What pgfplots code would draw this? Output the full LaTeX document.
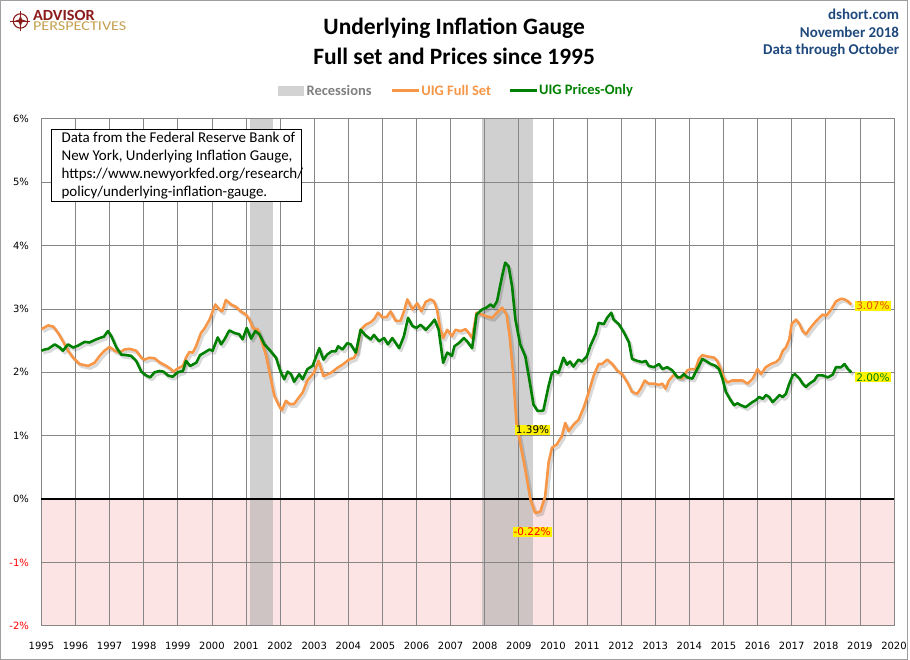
\documentclass[border=0pt]{standalone}
\usepackage{fontspec}
\setmainfont{Carlito}
\newfontfamily\dv{DejaVu Sans}
\usepackage{graphicx}
\usepackage{pgfplots}
\pgfplotsset{compat=1.18}
\usepackage{pgfplotstable}
\definecolor{uigorange}{RGB}{247,150,70}
\definecolor{uiggreen}{RGB}{0,128,0}
\definecolor{gridgray}{RGB}{134,134,134}
\definecolor{pinkbg}{RGB}{253,228,228}
\definecolor{recgray}{RGB}{172,172,172}
\definecolor{leggray}{RGB}{211,211,211}
\definecolor{navy}{RGB}{31,73,125}
\definecolor{advred}{RGB}{140,28,28}
\definecolor{advgold}{RGB}{196,160,80}
\definecolor{lblorange}{RGB}{228,78,12}

\pgfplotstableread{
x y
1995.00 2.68
1995.20 2.74
1995.35 2.72
1995.49 2.62
1995.63 2.49
1995.78 2.34
1995.93 2.23
1996.12 2.13
1996.37 2.10
1996.56 2.15
1996.71 2.26
1996.85 2.34
1997.00 2.40
1997.15 2.34
1997.29 2.31
1997.44 2.36
1997.59 2.37
1997.78 2.34
1997.93 2.23
1998.02 2.20
1998.17 2.23
1998.32 2.22
1998.46 2.16
1998.66 2.10
1998.80 2.05
1998.87 2.01
1999.00 2.06
1999.15 2.10
1999.24 2.23
1999.34 2.32
1999.44 2.31
1999.54 2.42
1999.68 2.62
1999.78 2.69
1999.93 2.83
2000.10 3.07
2000.22 2.99
2000.30 2.96
2000.41 3.14
2000.56 3.07
2000.71 3.03
2000.85 2.96
2001.00 2.91
2001.10 2.83
2001.21 2.69
2001.34 2.68
2001.44 2.52
2001.59 2.26
2001.73 1.89
2001.83 1.63
2001.96 1.48
2002.05 1.40
2002.17 1.55
2002.27 1.50
2002.41 1.50
2002.56 1.61
2002.66 1.68
2002.80 1.87
2003.00 2.00
2003.13 2.18
2003.27 1.94
2003.49 1.99
2003.68 2.07
2003.83 2.12
2004.02 2.20
2004.17 2.23
2004.25 2.32
2004.36 2.67
2004.51 2.75
2004.66 2.79
2004.76 2.84
2004.87 2.94
2005.00 2.87
2005.12 2.87
2005.24 2.96
2005.39 2.81
2005.53 2.81
2005.63 2.96
2005.73 3.15
2005.88 2.99
2006.02 3.09
2006.14 2.96
2006.27 3.11
2006.41 3.15
2006.51 3.12
2006.60 2.99
2006.70 2.67
2006.78 2.54
2006.90 2.67
2007.04 2.57
2007.14 2.67
2007.29 2.65
2007.44 2.68
2007.53 2.62
2007.63 2.54
2007.76 2.94
2007.92 2.91
2008.07 2.88
2008.22 2.86
2008.36 2.94
2008.51 3.02
2008.64 2.91
2008.73 2.57
2008.83 1.99
2008.93 1.20
2009.04 0.88
2009.19 0.46
2009.34 -0.01
2009.48 -0.22
2009.63 -0.20
2009.77 0.04
2009.87 0.57
2009.97 0.81
2010.11 0.86
2010.26 0.99
2010.36 1.20
2010.46 1.07
2010.60 1.17
2010.75 1.25
2010.90 1.44
2011.04 1.67
2011.19 1.94
2011.34 2.13
2011.44 2.13
2011.59 2.20
2011.74 2.13
2011.88 2.03
2012.03 1.97
2012.18 1.84
2012.32 1.69
2012.47 1.66
2012.57 1.74
2012.69 1.87
2012.81 1.82
2012.96 1.82
2013.11 1.80
2013.21 1.82
2013.30 1.74
2013.40 1.87
2013.55 1.96
2013.70 1.92
2013.79 1.90
2013.94 2.03
2014.04 2.05
2014.18 2.05
2014.28 2.21
2014.38 2.27
2014.53 2.25
2014.73 2.23
2014.82 2.18
2014.92 2.05
2015.02 1.90
2015.12 1.84
2015.26 1.87
2015.41 1.87
2015.56 1.87
2015.71 1.82
2015.86 1.90
2016.00 2.05
2016.10 1.97
2016.24 2.08
2016.39 2.13
2016.54 2.16
2016.64 2.21
2016.74 2.34
2016.83 2.39
2016.93 2.52
2017.00 2.76
2017.13 2.83
2017.23 2.76
2017.32 2.65
2017.42 2.60
2017.52 2.68
2017.67 2.78
2017.81 2.86
2017.91 2.91
2018.01 2.89
2018.16 2.99
2018.30 3.12
2018.45 3.16
2018.55 3.15
2018.65 3.12
2018.75 3.07
}\fullset

\pgfplotstableread{
x y
1995.00 2.34
1995.10 2.36
1995.20 2.37
1995.39 2.44
1995.54 2.39
1995.63 2.34
1995.78 2.44
1995.93 2.39
1996.07 2.42
1996.27 2.48
1996.41 2.47
1996.61 2.52
1996.76 2.55
1996.83 2.56
1996.95 2.65
1997.05 2.57
1997.20 2.39
1997.34 2.28
1997.49 2.27
1997.63 2.26
1997.78 2.18
1997.93 2.01
1998.07 1.95
1998.19 1.92
1998.32 2.00
1998.46 2.02
1998.58 2.01
1998.71 1.95
1998.85 1.93
1999.00 2.00
1999.15 2.02
1999.24 2.18
1999.36 2.10
1999.54 2.15
1999.65 2.27
1999.78 2.31
1999.93 2.36
2000.02 2.34
2000.17 2.55
2000.27 2.44
2000.37 2.52
2000.51 2.66
2000.66 2.62
2000.80 2.60
2000.90 2.52
2001.02 2.70
2001.15 2.53
2001.27 2.65
2001.39 2.60
2001.54 2.44
2001.68 2.36
2001.88 2.23
2002.02 2.00
2002.12 1.89
2002.22 2.01
2002.32 1.97
2002.41 1.85
2002.56 1.97
2002.66 1.89
2002.80 2.05
2002.95 2.10
2003.15 2.38
2003.27 2.20
2003.38 2.28
2003.51 2.33
2003.63 2.33
2003.70 2.41
2003.83 2.36
2003.97 2.46
2004.07 2.44
2004.22 2.31
2004.36 2.67
2004.51 2.58
2004.66 2.52
2004.75 2.59
2004.90 2.49
2005.05 2.54
2005.16 2.44
2005.29 2.54
2005.49 2.38
2005.63 2.57
2005.75 2.86
2005.88 2.73
2006.00 2.70
2006.12 2.75
2006.27 2.67
2006.41 2.75
2006.53 2.83
2006.65 2.67
2006.78 2.15
2006.90 2.31
2007.04 2.26
2007.11 2.41
2007.24 2.46
2007.39 2.54
2007.48 2.49
2007.63 2.38
2007.76 2.91
2007.92 2.99
2008.05 3.02
2008.17 3.07
2008.26 3.03
2008.36 3.12
2008.51 3.52
2008.60 3.73
2008.70 3.67
2008.80 3.36
2008.90 2.83
2009.04 2.44
2009.19 2.25
2009.34 1.78
2009.43 1.49
2009.55 1.39
2009.65 1.39
2009.72 1.40
2009.87 1.78
2009.97 1.99
2010.07 2.02
2010.16 1.99
2010.31 2.23
2010.41 2.12
2010.50 2.17
2010.60 2.09
2010.75 2.20
2010.85 2.17
2010.99 2.25
2011.10 2.42
2011.25 2.60
2011.34 2.78
2011.49 2.76
2011.59 2.86
2011.71 2.94
2011.78 2.83
2011.93 2.76
2012.08 2.63
2012.23 2.47
2012.32 2.21
2012.47 2.18
2012.62 2.16
2012.72 2.18
2012.81 2.10
2012.96 2.08
2013.11 2.13
2013.21 2.05
2013.35 2.08
2013.50 2.03
2013.65 1.92
2013.74 1.92
2013.84 1.97
2013.94 1.92
2014.09 1.90
2014.18 2.00
2014.28 2.10
2014.38 2.21
2014.48 2.18
2014.63 2.13
2014.77 2.10
2014.87 2.05
2014.97 1.90
2015.07 1.69
2015.21 1.56
2015.31 1.48
2015.41 1.51
2015.51 1.48
2015.65 1.45
2015.75 1.49
2015.85 1.53
2015.95 1.56
2016.05 1.61
2016.15 1.58
2016.25 1.64
2016.34 1.61
2016.44 1.53
2016.54 1.58
2016.64 1.64
2016.74 1.61
2016.83 1.66
2016.93 1.82
2017.03 1.95
2017.10 1.97
2017.23 1.90
2017.32 1.82
2017.42 1.77
2017.52 1.82
2017.66 1.87
2017.76 1.95
2017.91 1.95
2018.06 1.92
2018.20 1.96
2018.30 2.08
2018.45 2.08
2018.55 2.13
2018.65 2.05
2018.75 2.00
}\pricesonly

\begin{document}
\begin{tikzpicture}[x=1pt,y=1pt]
\path (0,0) rectangle (910,661);
\draw[gray!75, line width=1pt] (0.5,0.5) rectangle (909.5,660.5);

% logo
\draw[advred, line width=1.1pt] (20.5,640) circle (7.2);
\draw[advred, line width=0.6pt] (20.5,630) -- (20.5,650) (10.5,640) -- (30.5,640);
\fill[advred] (20.5,646) -- (22,641.5) -- (26.5,640) -- (22,638.5) -- (20.5,634) -- (19,638.5) -- (14.5,640) -- (19,641.5) -- cycle;
\node[anchor=south west, inner sep=0, align=left, font=\fontsize{13.5}{10.5}\selectfont] at (33,630) {\textcolor{advred}{\bfseries\fontsize{15.5}{10.5}\selectfont\scalebox{1.05}[1]{ADVISOR}}\\\textcolor{advgold}{\scalebox{1.2}[1]{PERSPECTIVES}}};

% titles
\node[font=\bfseries\fontsize{23.5}{26}\selectfont] at (455,633) {Underlying Inflation Gauge};
\node[font=\bfseries\fontsize{23.5}{26}\selectfont] at (455,605) {Full set and Prices since 1995};
\node[anchor=east, inner sep=0, text=navy, font=\bfseries\fontsize{15}{17}\selectfont] at (901,647) {dshort.com};
\node[anchor=east, inner sep=0, text=navy, font=\bfseries\fontsize{15}{17}\selectfont] at (901,628.5) {November 2018};
\node[anchor=east, inner sep=0, text=navy, font=\bfseries\fontsize{15}{17}\selectfont] at (901,610) {Data through October};

% legend
\fill[leggray] (279,565) rectangle (305,575);
\node[anchor=west, inner sep=1pt, text=gray, font=\bfseries\fontsize{14.5}{16}\selectfont] at (306,570) {Recessions};
\draw[uigorange, line width=3pt] (393,570) -- (420,570);
\node[anchor=west, inner sep=1pt, text=uigorange, font=\bfseries\fontsize{14.5}{16}\selectfont] at (421,570) {UIG Full Set};
\draw[uiggreen, line width=3pt] (511,570) -- (538,570);
\node[anchor=west, inner sep=1pt, text=uiggreen, font=\bfseries\fontsize{14.5}{16}\selectfont] at (539,570) {UIG Prices-Only};

\begin{axis}[
  at={(41.5pt,34pt)}, anchor=south west,
  scale only axis, width=854.2pt, height=508pt,
  xmin=1995, xmax=2020, ymin=-2, ymax=6,
  xtick={1995,1996,...,2020}, ytick={-2,-1,...,6},
  xticklabels={1995,1996,1997,1998,1999,2000,2001,2002,2003,2004,2005,2006,2007,2008,2009,2010,2011,2012,2013,2014,2015,2016,2017,2018,2019,2020},
  yticklabels={\textcolor{red}{-2\%},\textcolor{red}{-1\%},0\%,1\%,2\%,3\%,4\%,5\%,6\%},
  ticklabel style={font=\dv\fontsize{10}{12}\selectfont},
  xticklabel style={yshift=-13pt},
  yticklabel style={xshift=-9pt},
  grid=major, major grid style={gridgray, line width=0.75pt},
  axis line style={gridgray, line width=0.75pt},
  major tick length=0pt,
  set layers,
  clip=false,
]
\addplot[fill=pinkbg, draw=none, on layer=axis background] coordinates {(1995,-2) (2020,-2) (2020,0) (1995,0)} -- cycle;
\addplot[fill=recgray, fill opacity=0.56, draw=none, on layer=axis background] coordinates {(2001.13,-2) (2001.13,6) (2001.80,6) (2001.80,-2)} -- cycle;
\addplot[fill=recgray, fill opacity=0.56, draw=none, on layer=axis background] coordinates {(2007.92,-2) (2007.92,6) (2009.42,6) (2009.42,-2)} -- cycle;
\addplot[black, line width=1.8pt] coordinates {(1995,0) (2020,0)};
% shadows
\addplot[black, opacity=0.15, line width=3pt, xshift=2pt, yshift=-2.5pt, line join=round] table[x=x,y=y] {\fullset};
\addplot[black, opacity=0.15, line width=3pt, xshift=2pt, yshift=-2.5pt, line join=round] table[x=x,y=y] {\pricesonly};
\addplot[uigorange, line width=2.6pt, line join=round] table[x=x,y=y] {\fullset};
\addplot[uiggreen, line width=2.6pt, line join=round] table[x=x,y=y] {\pricesonly};
% value labels
\node[fill=yellow, text=lblorange, inner xsep=1pt, inner ysep=1pt, anchor=west, font=\dv\fontsize{10.5}{12}\selectfont] at (axis cs:2018.86,3.05) {3.07\%};
\node[fill=yellow, text=uiggreen, inner xsep=1pt, inner ysep=1pt, anchor=west, font=\dv\fontsize{10.5}{12}\selectfont] at (axis cs:2018.86,1.92) {2.00\%};
\node[fill=yellow, text=black, inner xsep=1pt, inner ysep=1pt, font=\dv\fontsize{10.5}{12}\selectfont] at (axis cs:2009.40,1.09) {1.39\%};
\node[fill=yellow, text=red, inner xsep=1pt, inner ysep=1pt, font=\dv\fontsize{10.5}{12}\selectfont] at (axis cs:2009.39,-0.515) {-0.22\%};
\end{axis}

% note box
\draw[black, line width=0.8pt, fill=white] (51,531.7) rectangle (302.3,459.3);
\node[anchor=north west, inner sep=0, align=left, font=\fontsize{15}{18}\selectfont] at (61.5,528.5) {Data from the Federal Reserve Bank of\\New York, Underlying Inflation Gauge,\\https://www.newyorkfed.org/research/\\policy/underlying-inflation-gauge.};
\end{tikzpicture}
\end{document}
